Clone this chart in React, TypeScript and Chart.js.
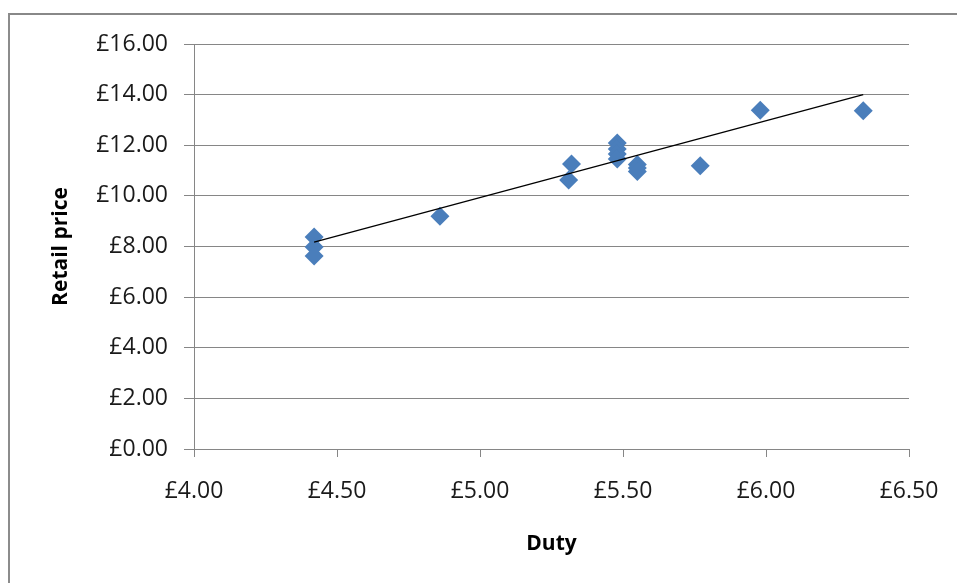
import React, { useEffect, useRef } from "react";
import { Chart, registerables } from "chart.js";

Chart.register(...registerables);

// Duty (£) and retail price (£)
const dutyValues = [4.42, 4.42, 4.42, 4.86, 5.31, 5.32, 5.48, 5.48, 5.48, 5.48, 5.55, 5.55, 5.55, 5.77, 5.98, 6.34];
const retailValues = [8.38, 7.98, 7.62, 9.2, 10.63, 11.26, 12.09, 11.85, 11.65, 11.46, 11.24, 11.1, 10.96, 11.19, 13.38, 13.36];

// Linear trend line end points
const trendDuty = [4.42, 6.34];
const trendRetail = [8.17, 14.0];

const xTicks = [4.0, 4.5, 5.0, 5.5, 6.0, 6.5];
const yTicks = [0, 2, 4, 6, 8, 10, 12, 14, 16];

const xTitle = "Duty";
const yTitle = "Retail price";

const gbp = (v: number) => "£" + v.toFixed(2);

export default function App() {
  const ref = useRef<HTMLCanvasElement | null>(null);

  useEffect(() => {
    if (!ref.current) return;
    const scatter = dutyValues.map((x, i) => ({ x, y: retailValues[i] }));
    const trend = trendDuty.map((x, i) => ({ x, y: trendRetail[i] }));
    const tickFont = { family: "'Open Sans'", size: 23 };
    const titleFont = { family: "'Open Sans'", size: 21, weight: "bold" as const };
    const gridColor = "#868686";

    const chart = new Chart(ref.current, {
      type: "scatter",
      data: {
        datasets: [
          {
            type: "line",
            data: trend,
            borderColor: "#000000",
            borderWidth: 1.3,
            pointRadius: 0,
            fill: false,
            order: 0,
          } as any,
          {
            data: scatter,
            backgroundColor: "#4a7ebb",
            borderColor: "#4a7ebb",
            pointStyle: "rectRot",
            pointRadius: 9.5,
            pointBorderWidth: 0,
            order: 1,
          },
        ],
      },
      options: {
        animation: false,
        responsive: false,
        maintainAspectRatio: false,
        layout: { padding: { left: 0, top: 44, right: 48, bottom: 0 } },
        plugins: {
          legend: { display: false },
          tooltip: { enabled: false },
        },
        scales: {
          x: {
            type: "linear",
            min: xTicks[0],
            max: xTicks[xTicks.length - 1],
            afterBuildTicks: (s: any) => {
              s.ticks = xTicks.map((v) => ({ value: v }));
            },
            afterFit: (s: any) => {
              s.height = 134;
              s.paddingLeft = 0;
              s.paddingRight = 0;
            },
            ticks: {
              callback: (v: any) => gbp(Number(v)),
              font: tickFont,
              color: "#1a1a1a",
              padding: 21,
              maxRotation: 0,
              autoSkip: false,
            },
            grid: {
              drawOnChartArea: false,
              drawTicks: true,
              tickLength: 8,
              color: gridColor,
              lineWidth: 1,
            },
            border: { display: true, color: gridColor, width: 1 },
            title: {
              display: true,
              text: xTitle,
              font: titleFont,
              color: "#000000",
              padding: { top: 0, bottom: 26 },
            },
          },
          y: {
            type: "linear",
            min: yTicks[0],
            max: yTicks[yTicks.length - 1],
            afterBuildTicks: (s: any) => {
              s.ticks = yTicks.map((v) => ({ value: v }));
            },
            afterFit: (s: any) => {
              s.width = 194;
              s.paddingTop = 0;
              s.paddingBottom = 0;
            },
            ticks: {
              callback: (v: any) => gbp(Number(v)),
              font: tickFont,
              color: "#1a1a1a",
              padding: 16,
              autoSkip: false,
            },
            grid: {
              drawOnChartArea: true,
              drawTicks: true,
              tickLength: 10,
              color: gridColor,
              lineWidth: 1,
            },
            border: { display: true, color: gridColor, width: 1 },
            title: {
              display: true,
              text: yTitle,
              font: titleFont,
              color: "#000000",
              padding: { top: 48, bottom: 0 },
            },
          },
        },
      },
    });
    return () => chart.destroy();
  }, []);

  return (
    <div
      style={{
        position: "fixed",
        left: 0,
        top: 0,
        width: 957,
        height: 583,
        overflow: "hidden",
        background: "#ffffff",
      }}
    >
      <div
        style={{
          position: "absolute",
          left: 8,
          top: 13,
          width: 1000,
          height: 700,
          borderTop: "2px solid #888888",
          borderLeft: "2px solid #8c8c8c",
        }}
      />
      <canvas
        ref={ref}
        width={957}
        height={583}
        style={{ position: "absolute", left: 0, top: 0, width: 957, height: 583 }}
      />
    </div>
  );
}
